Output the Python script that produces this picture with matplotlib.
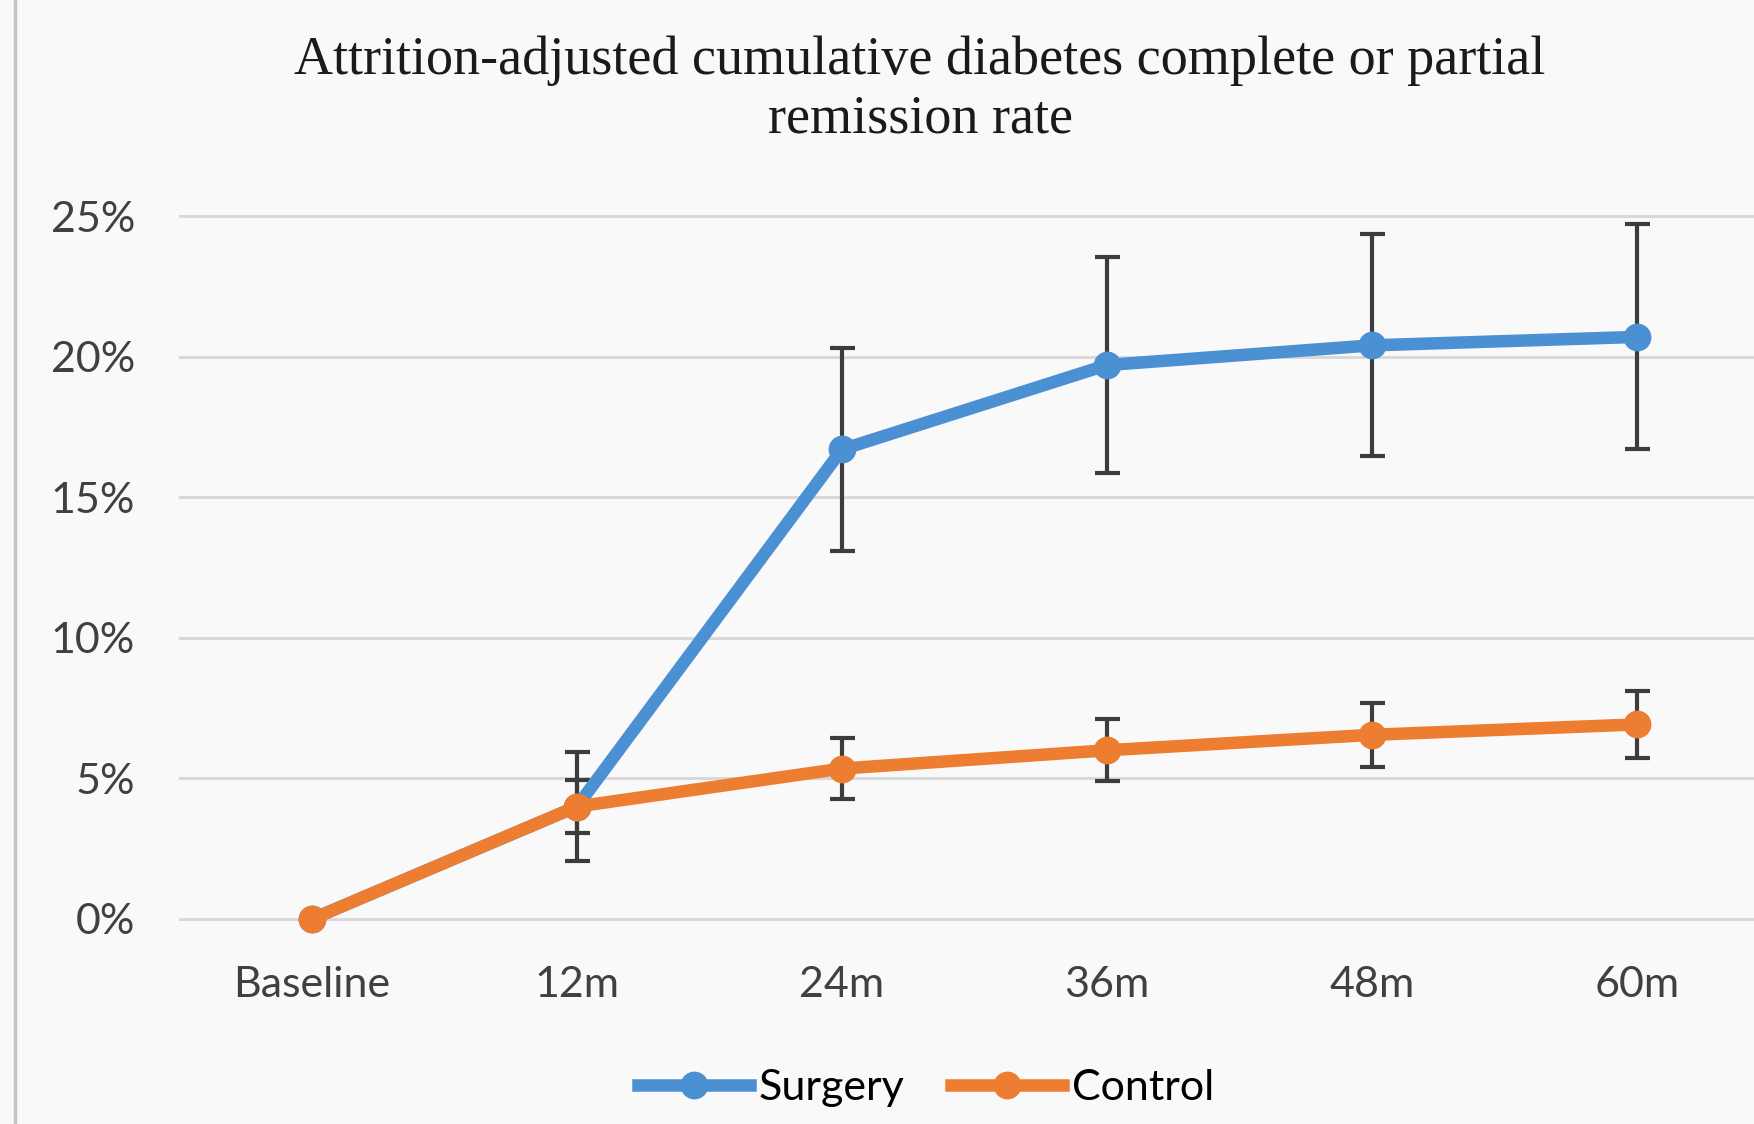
import matplotlib.pyplot as plt
from matplotlib.lines import Line2D

# time points and remission rates (%)
labels = ["Baseline", "12m", "24m", "36m", "48m", "60m"]
surgery = [0.0, 4.0, 16.7, 19.7, 20.4, 20.7]
surgery_err = [0.0, 1.95, 3.6, 3.85, 3.95, 4.0]
control = [0.0, 4.0, 5.35, 6.0, 6.55, 6.92]
control_err = [0.0, 0.95, 1.07, 1.1, 1.13, 1.2]

blue = "#4a90d3"
orange = "#ed7d31"
bg = "#f9f9f9"
sans = ["Lato", "DejaVu Sans"]
W, H = 1754, 1124

fig = plt.figure(figsize=(W / 100, H / 100), dpi=100, facecolor=bg)

# plot area: 0% at y=919px, 25% at y=216px; it runs off the right edge
left_px, y0_px, y25_px = 179.5, 919, 216
ax = fig.add_axes([left_px / W, (H - y0_px) / H, 1 - left_px / W,
                   (y0_px - y25_px) / H])
ax.set_facecolor(bg)

x = list(range(len(labels)))
step_px = 265.0
ax.set_xlim(-0.5, -0.5 + (W - left_px) / step_px)
ax.set_ylim(0, 25)

for v in range(0, 26, 5):
    ax.axhline(v, color="#d9d9d9", lw=2.2, zorder=0, clip_on=False)

err_kw = dict(ecolor="#3c3c3c", elinewidth=3, capsize=9, capthick=3, zorder=3)
ax.errorbar(x, surgery, yerr=surgery_err, fmt="none", **err_kw)
ax.errorbar(x, control, yerr=control_err, fmt="none", **err_kw)

ax.plot(x, surgery, color=blue, lw=9, marker="o", ms=19,
        solid_joinstyle="round", zorder=4, clip_on=False)
ax.plot(x, control, color=orange, lw=9, marker="o", ms=19,
        solid_joinstyle="round", zorder=5, clip_on=False)

ax.set_xticks(x)
ax.set_xticklabels(labels, family=sans, fontsize=31, color="#404040")
ax.set_yticks(range(0, 26, 5))
ax.set_yticklabels([f"{v}%" for v in range(0, 26, 5)], family=sans,
                   fontsize=31, color="#404040")
ax.tick_params(axis="x", length=0, pad=34)
ax.tick_params(axis="y", length=0, pad=32)
for s in ax.spines.values():
    s.set_visible(False)

fig.text(920 / W, 1 - 90 / H,
         "Attrition-adjusted cumulative diabetes complete or partial\nremission rate",
         ha="center", va="center", family="Liberation Serif", fontsize=39,
         linespacing=1.23, color="#1a1a1a")

# left border of the chart frame
fig.add_artist(Line2D([15 / W, 15 / W], [0, 1], color="#c4c4c4", lw=2.5))

handles = [Line2D([], [], color=blue, lw=9, marker="o", ms=19),
           Line2D([], [], color=orange, lw=9, marker="o", ms=19)]
fig.legend(handles, ["Surgery", "Control"], loc="center",
           bbox_to_anchor=(926 / W, 1 - 1088 / H), ncol=2, frameon=False,
           prop={"family": sans, "size": 31}, handlelength=2.6,
           handletextpad=0.2, columnspacing=1.1)

fig.savefig("out.png", dpi=100, facecolor=bg)
